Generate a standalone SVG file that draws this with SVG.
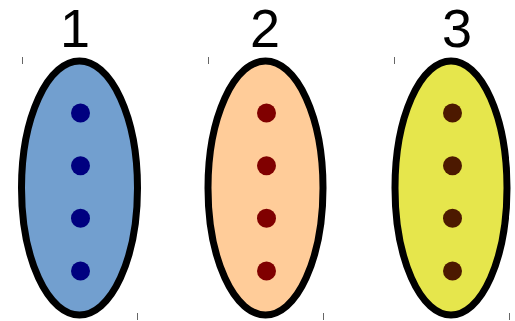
<svg xmlns="http://www.w3.org/2000/svg" width="515" height="321" viewBox="0 0 515 321">
<style>
.e{stroke:#000;stroke-width:7}
.t{stroke:#666;stroke-width:1}
.lbl{font-family:"Liberation Sans",Arial,sans-serif;font-size:54px;fill:#000;text-anchor:middle}
</style>
<rect width="515" height="321" fill="#fff"/>
<g id="node1">
<line class="t" x1="22.5" y1="57" x2="22.5" y2="64"/>
<line class="t" x1="137.5" y1="313" x2="137.5" y2="320"/>
<ellipse class="e" cx="79.5" cy="188" rx="58" ry="127" fill="#729fcf"/>
<g fill="#000080"><circle cx="80.5" cy="113" r="9.5"/><circle cx="80.5" cy="165.7" r="9.5"/><circle cx="80.5" cy="218.3" r="9.5"/><circle cx="80.5" cy="271" r="9.5"/></g>
<text class="lbl" x="75" y="47">1</text>
</g>
<g id="node2">
<line class="t" x1="208.5" y1="57" x2="208.5" y2="64"/>
<line class="t" x1="323.5" y1="313" x2="323.5" y2="320"/>
<ellipse class="e" cx="265.5" cy="188" rx="57.5" ry="127" fill="#ffcc99"/>
<g fill="#800000"><circle cx="266.5" cy="113" r="9.5"/><circle cx="266.5" cy="165.7" r="9.5"/><circle cx="266.5" cy="218.3" r="9.5"/><circle cx="266.5" cy="271" r="9.5"/></g>
<text class="lbl" x="265" y="47">2</text>
</g>
<g id="node3">
<line class="t" x1="394.5" y1="57" x2="394.5" y2="64"/>
<line class="t" x1="509.5" y1="313" x2="509.5" y2="320"/>
<ellipse class="e" cx="451" cy="188" rx="56" ry="127" fill="#e6e64c"/>
<g fill="#4c1900"><circle cx="452.5" cy="113" r="9.5"/><circle cx="452.5" cy="165.7" r="9.5"/><circle cx="452.5" cy="218.3" r="9.5"/><circle cx="452.5" cy="271" r="9.5"/></g>
<text class="lbl" x="457" y="47">3</text>
</g>
<g id="connectors"></g>
</svg>
